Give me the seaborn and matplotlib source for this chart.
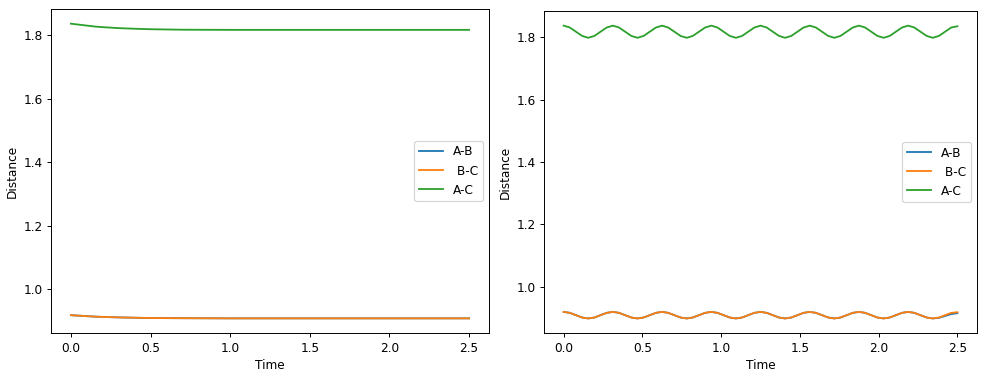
import numpy as np
import pandas as pd
import matplotlib
matplotlib.use("Agg")
import matplotlib.pyplot as plt
import seaborn as sns

# left panel: distances relax to equilibrium
t_left = [0.0, 0.05, 0.1, 0.15, 0.2, 0.3, 0.4, 0.5, 0.7, 1.0, 1.5, 2.0, 2.5]
ab_left = [0.917, 0.9155, 0.914, 0.9125, 0.9115, 0.910, 0.909, 0.908, 0.9075, 0.907, 0.907, 0.907, 0.907]
bc_left = [0.917, 0.9155, 0.914, 0.9125, 0.9115, 0.910, 0.909, 0.908, 0.9075, 0.907, 0.907, 0.907, 0.907]
ac_left = [1.837, 1.834, 1.831, 1.828, 1.826, 1.823, 1.821, 1.8195, 1.818, 1.8175, 1.8175, 1.8175, 1.8175]

# right panel: oscillation around equilibrium (time sampled on a regular grid)
t_right = np.linspace(0, 2.5, 65)
ab_right = [0.919, 0.916, 0.9085, 0.901, 0.898, 0.901, 0.9085, 0.916,
            0.919, 0.916, 0.9085, 0.901, 0.898, 0.901, 0.9085, 0.916,
            0.919, 0.916, 0.9085, 0.901, 0.898, 0.901, 0.9085, 0.916,
            0.919, 0.916, 0.9085, 0.901, 0.898, 0.901, 0.9085, 0.916,
            0.919, 0.916, 0.9085, 0.901, 0.898, 0.901, 0.9085, 0.916,
            0.919, 0.916, 0.9085, 0.901, 0.898, 0.901, 0.9085, 0.916,
            0.919, 0.916, 0.9085, 0.901, 0.898, 0.901, 0.9085, 0.916,
            0.919, 0.916, 0.9085, 0.901, 0.898, 0.900, 0.906, 0.912,
            0.915]
bc_right = [0.919, 0.916, 0.9085, 0.901, 0.898, 0.901, 0.9085, 0.916,
            0.919, 0.916, 0.9085, 0.901, 0.898, 0.901, 0.9085, 0.916,
            0.919, 0.916, 0.9085, 0.901, 0.898, 0.901, 0.9085, 0.916,
            0.919, 0.916, 0.9085, 0.901, 0.898, 0.901, 0.9085, 0.916,
            0.919, 0.916, 0.9085, 0.901, 0.898, 0.901, 0.9085, 0.916,
            0.919, 0.916, 0.9085, 0.901, 0.898, 0.901, 0.9085, 0.916,
            0.919, 0.916, 0.9085, 0.901, 0.898, 0.901, 0.9085, 0.916,
            0.919, 0.916, 0.9085, 0.901, 0.898, 0.901, 0.9085, 0.916,
            0.918]
ac_right = [1.838, 1.832, 1.8185, 1.805, 1.799, 1.805, 1.8185, 1.832,
            1.838, 1.832, 1.8185, 1.805, 1.799, 1.805, 1.8185, 1.832,
            1.838, 1.832, 1.8185, 1.805, 1.799, 1.805, 1.8185, 1.832,
            1.838, 1.832, 1.8185, 1.805, 1.799, 1.805, 1.8185, 1.832,
            1.838, 1.832, 1.8185, 1.805, 1.799, 1.805, 1.8185, 1.832,
            1.838, 1.832, 1.8185, 1.805, 1.799, 1.805, 1.8185, 1.832,
            1.838, 1.832, 1.8185, 1.805, 1.799, 1.805, 1.8185, 1.832,
            1.838, 1.832, 1.8185, 1.805, 1.799, 1.805, 1.8185, 1.832,
            1.836]

labels = ["A-B", " B-C", "A-C"]
colors = ["#1f77b4", "#ff7f0e", "#2ca02c"]

# reference looks rendered at a slightly smaller scale than 100 dpi
dpi = 87
fig = plt.figure(figsize=(981 / dpi, 373 / dpi), dpi=dpi)
ax1 = fig.add_axes([0.052, 0.107, 0.4465, 0.869])
ax2 = fig.add_axes([0.5545, 0.107, 0.4415, 0.8635])

for ax, t, series in [(ax1, t_left, [ab_left, bc_left, ac_left]),
                      (ax2, t_right, [ab_right, bc_right, ac_right])]:
    for lab, col, vals in zip(labels, colors, series):
        d = pd.DataFrame({"Time": t, "Distance": vals})
        sns.lineplot(data=d, x="Time", y="Distance", ax=ax, color=col, label=lab, linewidth=1.5)
    ax.legend(loc="center right")
    ax.set_xlabel("Time")
    ax.set_ylabel("Distance")

fig.savefig("out.png", dpi=dpi)
